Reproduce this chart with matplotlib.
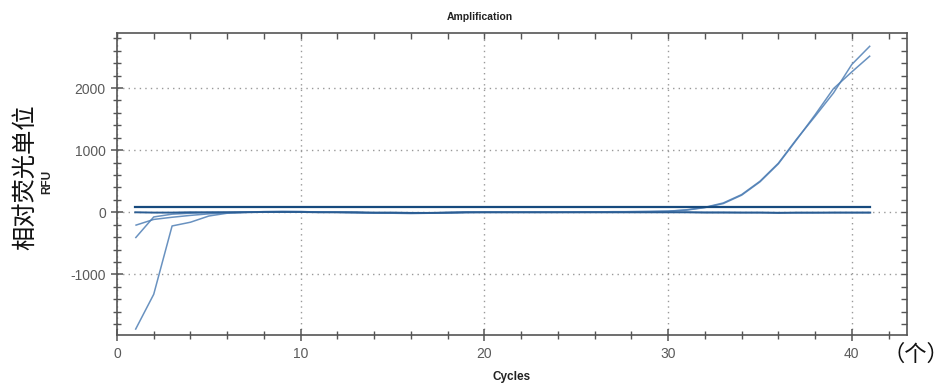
import matplotlib
matplotlib.use("Agg")
import matplotlib.pyplot as plt
from matplotlib.ticker import MultipleLocator
import numpy as np

cycles = list(range(1, 42))
amp_a = [-1890, -1320, -220, -160, -60, -15, 0, 10, 15, 12, 5, 0, -5, -10, -15, -15, -10, -5, 0, 0,
         0, 0, 0, 0, 0, 5, 5, 10, 10, 15, 40, 80, 150, 285, 500, 790, 1180, 1545, 1920, 2380, 2680]
amp_b = [-415, -75, -30, -15, -5, 0, 5, 10, 10, 10, 5, 0, -5, -10, -10, -10, -10, -5, 0, 0,
         0, 0, 0, 0, 5, 5, 10, 10, 15, 20, 35, 75, 140, 275, 490, 780, 1170, 1570, 1990, 2260, 2520]
neg_a = [-210, -115, -80, -50, -25, -10, 0, 5, 5, 5, 0, 0, -5, -10, -15, -20, -15, -10, -5, 0,
         0, 0, 0, 0, 0, 0, 0, 0, 0, 0, 0, 0, 0, -5, -5, -5, -10, -10, -5, -5, -5]
neg_b = [0, -5, -5, 0, 0, 0, 0, 5, 5, 5, 0, 0, 0, -5, -5, -10, -10, -5, 0, 0,
         0, 0, 0, 0, 0, 0, 0, 0, 0, 0, 0, -5, -5, -5, -5, -10, -5, -5, -5, -5, -5]
threshold = 90

x_major = [0, 10, 20, 30, 40]
y_major = [-1000, 0, 1000, 2000]

plt.rcParams['font.family'] = ['Liberation Sans', 'DejaVu Sans']
plt.rcParams['axes.unicode_minus'] = False
fig = plt.figure(figsize=(9.51, 3.84), dpi=100)
rect = [0.123, 0.1276, 0.8307, 0.7864]
ax = fig.add_axes(rect)

curve_color = '#4f7fb5'
for ys in (amp_a, amp_b, neg_a):
    ax.plot(cycles, ys, color=curve_color, lw=1.1, alpha=0.85, solid_capstyle='butt')
ax.plot(cycles, neg_b, color='#2b5d93', lw=1.4)
ax.plot([cycles[0], cycles[-1]], [threshold, threshold], color='#174a7e', lw=1.6)

xlim = (0, 43)
ylim = (-1975, 2885)
ax.set_xlim(*xlim)
ax.set_ylim(*ylim)
ax.set_xticks(x_major)
ax.set_yticks(y_major)
ax.xaxis.set_minor_locator(MultipleLocator(2))
ax.yaxis.set_minor_locator(MultipleLocator(200))
ax.grid(True, which='major', color='#999999', linestyle=(0, (1, 3)), lw=1.0)

for s in ax.spines.values():
    s.set_color('#555555')
    s.set_linewidth(1.2)

ax.tick_params(axis='both', which='major', direction='inout', length=9, width=1.1,
               colors='#555555', labelcolor='#5a5a5a', labelsize=10,
               top=False, right=False)
ax.tick_params(axis='both', which='minor', direction='inout', length=6, width=1.0,
               colors='#555555', top=False, right=False)
ax.tick_params(axis='x', which='major', pad=4)

# inward ticks on top and right edges
axr = ax.twinx()
axr.set_ylim(*ylim)
axr.set_yticks(y_major)
axr.yaxis.set_minor_locator(MultipleLocator(200))
axr.tick_params(axis='y', which='both', direction='in', length=4, width=1.0,
                colors='#555555', labelright=False)
axt = ax.twiny()
axt.set_xlim(*xlim)
axt.set_xticks(x_major)
axt.xaxis.set_minor_locator(MultipleLocator(2))
axt.tick_params(axis='x', which='both', direction='in', length=4, width=1.0,
                colors='#555555', labeltop=False)
for a in (axr, axt):
    for s in a.spines.values():
        s.set_visible(False)

fig.text(0.505, 0.955, 'Amplification', ha='center', va='center',
         fontsize=7.5, fontweight='bold', color='#222222')
fig.text(0.538, 0.018, 'Cycles', ha='center', va='center',
         fontsize=8.5, fontweight='bold', color='#222222')
fig.text(0.05, 0.525, 'RFU', ha='center', va='center', rotation=90,
         fontsize=8.5, fontweight='bold', color='#222222')
fig.text(0.026, 0.538, '相对荧光单位', ha='center', va='center', rotation=90,
         fontsize=17.5, color='#111111',
         family=['Noto Sans CJK SC', 'DejaVu Sans'], fontweight='light')
fig.text(0.998, 0.078, '（个）', ha='right', va='center',
         fontsize=16, color='#111111',
         family=['Noto Sans CJK SC', 'DejaVu Sans'], fontweight='light')

fig.savefig('out.png', dpi=100)
